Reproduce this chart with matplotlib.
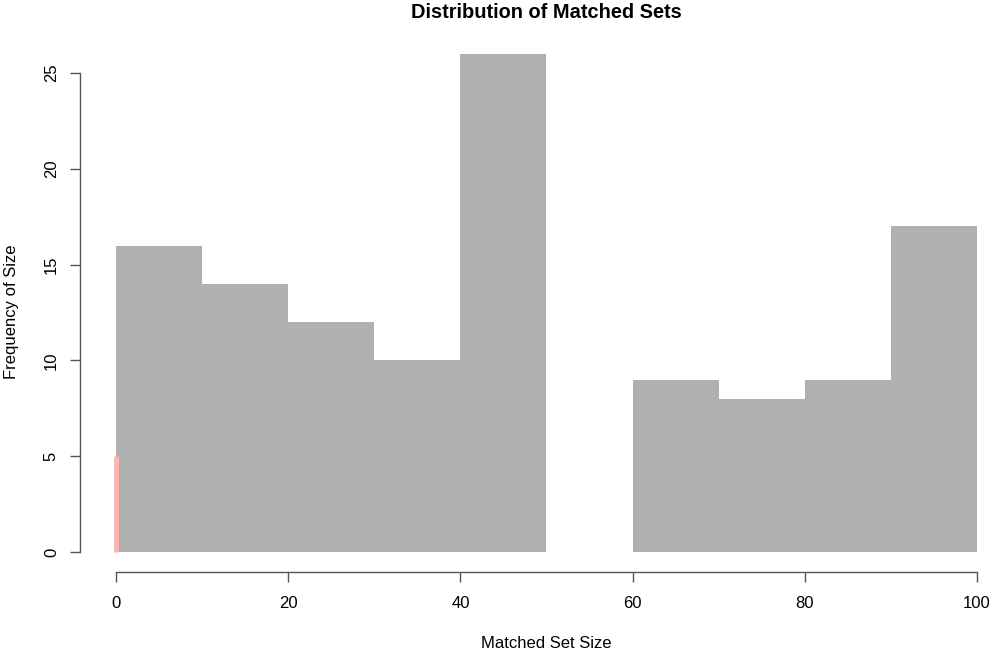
import numpy as np
import matplotlib.pyplot as plt

plt.rcParams["font.family"] = ["Liberation Sans", "DejaVu Sans"]

# ---------- data ----------
bin_edges = [0, 10, 20, 30, 40, 50, 60, 70, 80, 90, 100]
counts = [16, 14, 12, 10, 26, 0, 9, 8, 9, 17]
marker_x = [0]
marker_h = [5]

W, H = 991, 652
fig = plt.figure(figsize=(W / 100, H / 100), dpi=100)

# plot region in pixels (R style layout)
left_px, right_px, top_px, bottom_px = 80, 991, 34, 572
ax = fig.add_axes([left_px / W, (H - bottom_px) / H,
                   (right_px - left_px) / W, (bottom_px - top_px) / H])

lefts = np.array(bin_edges[:-1])
widths = np.diff(bin_edges)
ax.bar(lefts, counts, width=widths, align="edge", color="#b0b0b0",
       linewidth=0)
ax.vlines(marker_x, 0, marker_h, color="#ffb3b3", linewidth=3.5)

ax.set_xlim(-4.18, 101.63)
ax.set_ylim(-1.04, 27.04)

for s in ["top", "right"]:
    ax.spines[s].set_visible(False)
ax.spines["left"].set_bounds(0, 25)
ax.spines["bottom"].set_bounds(0, 100)
for s in ["left", "bottom"]:
    ax.spines[s].set_color("#555555")
    ax.spines[s].set_linewidth(1.0)

ax.set_xticks([0, 20, 40, 60, 80, 100])
ax.set_yticks([0, 5, 10, 15, 20, 25])
ax.tick_params(axis="x", length=7.2, width=1.0, color="#555555",
               labelsize=12, pad=10)
ax.tick_params(axis="y", length=7.2, width=1.0, color="#555555",
               labelsize=12, pad=8)
for lab in ax.get_yticklabels():
    lab.set_rotation(90)
    lab.set_va("center")

# axis titles placed like R's mtext lines
fig.text(546 / W, 1 - 643 / H, "Matched Set Size", ha="center",
         va="center", fontsize=12)
fig.text(12 / W, 1 - 312 / H, "Frequency of Size", ha="center",
         va="center", rotation=90, fontsize=12)
fig.text(546 / W, 1 - 12 / H, "Distribution of Matched Sets", ha="center",
         va="center", fontsize=14.4, fontweight="bold")

plt.savefig("out.png", dpi=100)
